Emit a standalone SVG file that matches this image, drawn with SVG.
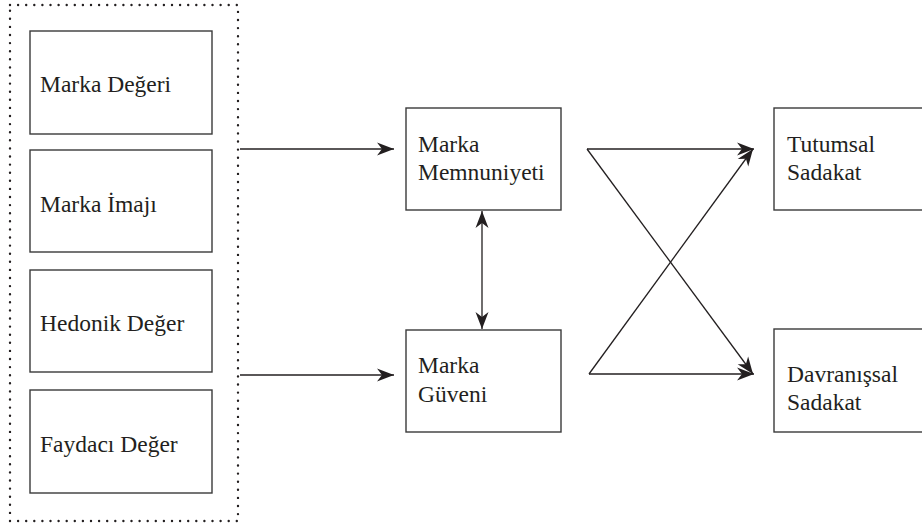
<svg xmlns="http://www.w3.org/2000/svg" width="922" height="526" viewBox="0 0 922 526">
<defs>
<style>
.box{fill:#fff;stroke:#3a3a3a;stroke-width:1.4}
.lbl{font-family:"Liberation Serif","Times New Roman",serif;font-size:23.5px;fill:#231f20}
.con{stroke:#231f20;stroke-width:1.3;fill:none}
.dot{fill:none;stroke:#231f20;stroke-width:2.4;stroke-dasharray:0 8.1;stroke-linecap:round}
</style>
<marker id="ah" markerUnits="userSpaceOnUse" markerWidth="18" markerHeight="14" refX="17" refY="7" orient="auto-start-reverse" viewBox="0 0 18 14">
<path d="M0,0.5 L17,7 L0,13.5 L5,7 Z" fill="#231f20"/>
</marker>
</defs>
<rect width="922" height="526" fill="#fff"/>
<g id="group-box">
<rect class="dot" x="10" y="5" width="228" height="516"/>
</g>
<g id="marka-degeri"><rect class="box" x="30" y="31" width="182" height="103"/><text class="lbl" x="40" y="92">Marka Değeri</text></g>
<g id="marka-imaji"><rect class="box" x="30" y="150" width="182" height="102"/><text class="lbl" x="40" y="212">Marka İmajı</text></g>
<g id="hedonik-deger"><rect class="box" x="30" y="270" width="182" height="102"/><text class="lbl" x="40" y="331">Hedonik Değer</text></g>
<g id="faydaci-deger"><rect class="box" x="30" y="390" width="182" height="103"/><text class="lbl" x="40" y="452">Faydacı Değer</text></g>
<g id="marka-memnuniyeti"><rect class="box" x="406" y="108" width="155" height="102"/><text class="lbl" x="418" y="152">Marka</text><text class="lbl" x="418" y="180">Memnuniyeti</text></g>
<g id="marka-guveni"><rect class="box" x="406" y="330" width="155" height="102"/><text class="lbl" x="418" y="373">Marka</text><text class="lbl" x="418" y="402">Güveni</text></g>
<g id="tutumsal-sadakat"><rect class="box" x="774" y="108" width="160" height="102"/><text class="lbl" x="787" y="152">Tutumsal</text><text class="lbl" x="787" y="180">Sadakat</text></g>
<g id="davranissal-sadakat"><rect class="box" x="774" y="329" width="160" height="103"/><text class="lbl" x="787" y="382">Davranışsal</text><text class="lbl" x="787" y="410">Sadakat</text></g>
<g id="connectors">
<line class="con" x1="240" y1="149" x2="394" y2="149" marker-end="url(#ah)"/>
<line class="con" x1="240" y1="375" x2="394" y2="375" marker-end="url(#ah)"/>
<line class="con" x1="482" y1="211" x2="482" y2="329" marker-start="url(#ah)" marker-end="url(#ah)"/>
<line class="con" x1="587" y1="149" x2="754" y2="149" marker-end="url(#ah)"/>
<line class="con" x1="587" y1="149" x2="753" y2="374" marker-end="url(#ah)"/>
<line class="con" x1="589" y1="374" x2="754" y2="374" marker-end="url(#ah)"/>
<line class="con" x1="589" y1="374" x2="753" y2="149" marker-end="url(#ah)"/>
</g>
</svg>
